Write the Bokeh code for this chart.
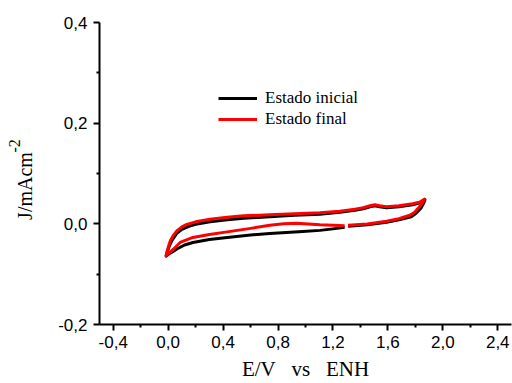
from bokeh.plotting import figure
from bokeh.models import FixedTicker, Legend, LegendItem, Range1d, Title
from bokeh.embed import file_html
from bokeh.resources import INLINE

# ---- data ----
x_ticks = [-0.4, 0.0, 0.4, 0.8, 1.2, 1.6, 2.0, 2.4]
x_tick_labels = ["-0,4", "0,0", "0,4", "0,8", "1,2", "1,6", "2,0", "2,4"]
y_ticks = [-0.2, 0.0, 0.2, 0.4]
y_tick_labels = ["-0,2", "0,0", "0,2", "0,4"]

series_names = ["Estado inicial", "Estado final"]

# Estado inicial (black) closed CV path
inicial_e = [1.285, 1.2, 1.105, 0.98, 0.86, 0.74, 0.6, 0.43, 0.3, 0.18, 0.12, 0.063, 0.03, 0.005,
             -0.015, -0.005, 0.01, 0.03, 0.063, 0.1, 0.15, 0.2, 0.305, 0.43, 0.55, 0.74, 0.92,
             1.105, 1.25, 1.36, 1.42, 1.47, 1.505, 1.54, 1.59, 1.68, 1.78, 1.835, 1.87, 1.86,
             1.84, 1.805, 1.77, 1.68, 1.59, 1.45, 1.31]
inicial_j = [-0.007, -0.010, -0.013, -0.015, -0.017, -0.019, -0.022, -0.027, -0.031, -0.037,
             -0.042, -0.050, -0.056, -0.060, -0.064, -0.054, -0.043, -0.032, -0.019, -0.011,
             -0.005, -0.001, 0.004, 0.008, 0.011, 0.014, 0.017, 0.019, 0.023, 0.027, 0.030,
             0.034, 0.036, 0.034, 0.032, 0.034, 0.038, 0.042, 0.048, 0.041, 0.031, 0.021,
             0.014, 0.008, 0.003, -0.002, -0.005]

# Estado final (red) closed CV path
final_e = [1.285, 1.2, 1.105, 0.936, 0.84, 0.74, 0.6, 0.43, 0.3, 0.18, 0.087, 0.04, 0.01,
           -0.015, 0.0, 0.015, 0.035, 0.063, 0.1, 0.136, 0.2, 0.305, 0.43, 0.55, 0.74, 0.92,
           1.105, 1.25, 1.36, 1.42, 1.47, 1.505, 1.54, 1.59, 1.68, 1.78, 1.83, 1.865, 1.855,
           1.83, 1.795, 1.76, 1.68, 1.59, 1.45, 1.31]
final_j = [-0.004, -0.003, -0.002, 0.001, 0.000, -0.003, -0.009, -0.016, -0.021, -0.027,
           -0.037, -0.050, -0.057, -0.063, -0.047, -0.034, -0.024, -0.014, -0.006, -0.001,
           0.004, 0.009, 0.013, 0.016, 0.018, 0.020, 0.022, 0.025, 0.029, 0.032, 0.036,
           0.038, 0.036, 0.034, 0.036, 0.040, 0.043, 0.049, 0.043, 0.034, 0.023, 0.017,
           0.010, 0.005, -0.0005, -0.003]

# ---- figure ----
p = figure(width=512, height=383, output_backend="svg", toolbar_location=None,
           x_range=Range1d(-0.5, 2.5), y_range=Range1d(-0.2, 0.4),
           min_border_left=99, min_border_right=1, min_border_top=22, min_border_bottom=59)
p.outline_line_color = None
p.xgrid.visible = False
p.ygrid.visible = False
p.background_fill_color = "white"
p.border_fill_color = "white"

r_ini = p.line(inicial_e, inicial_j, line_color="black", line_width=3, line_join="round")
r_fin = p.line(final_e, final_j, line_color="#ff0000", line_width=3, line_join="round")

def mids(t):
    return [(a + b) / 2 for a, b in zip(t[:-1], t[1:])]

p.xaxis.ticker = FixedTicker(ticks=x_ticks, minor_ticks=mids(x_ticks))
p.yaxis.ticker = FixedTicker(ticks=y_ticks, minor_ticks=mids(y_ticks))
p.xaxis.major_label_overrides = dict(zip(x_ticks, x_tick_labels))
p.yaxis.major_label_overrides = dict(zip(y_ticks, y_tick_labels))

for ax in (p.xaxis, p.yaxis):
    ax.axis_line_width = 2
    ax.axis_line_color = "black"
    ax.major_tick_line_width = 2
    ax.minor_tick_line_width = 2
    ax.major_tick_line_color = "black"
    ax.minor_tick_line_color = "black"
    ax.major_tick_out = 6
    ax.major_tick_in = 0
    ax.minor_tick_out = 3
    ax.minor_tick_in = 0
    ax.major_label_text_font = "Liberation Sans"
    ax.major_label_text_font_size = "17px"
    ax.major_label_text_color = "black"
    ax.axis_label_text_font = "Liberation Serif"
    ax.axis_label_text_font_style = "normal"
    ax.axis_label_text_color = "black"

p.xaxis.major_label_standoff = 5
p.yaxis.major_label_standoff = 6

NB = "\u00a0"
p.xaxis.axis_label = "E/V" + NB * 2 + " vs" + NB * 2 + " ENH"
p.xaxis.axis_label_text_font_size = "21px"
p.xaxis.axis_label_standoff = 6

# y-axis title; trailing no-break spaces move it down like the reference
p.yaxis.axis_label = "J/mAcm" + NB * 5
p.yaxis.axis_label_text_font_size = "20px"
p.yaxis.axis_label_standoff = 19

# superscript of the y-axis title
p.add_layout(Title(text="-2", align="left", vertical_align="bottom", offset=172, standoff=-16,
                   text_font="Liberation Serif", text_font_size="16px",
                   text_font_style="normal", text_color="black"), "left")

legend = Legend(items=[LegendItem(label=series_names[0], renderers=[r_ini]),
                       LegendItem(label=series_names[1], renderers=[r_fin])],
                location=(119, 195), orientation="vertical",
                background_fill_alpha=0, border_line_color=None,
                padding=0, margin=0, spacing=1,
                glyph_width=39, glyph_height=20, label_height=20, label_standoff=8,
                label_text_font="Liberation Serif", label_text_font_size="17px",
                label_text_color="black")
p.add_layout(legend)

open("out.html", "w").write(file_html(p, INLINE))
